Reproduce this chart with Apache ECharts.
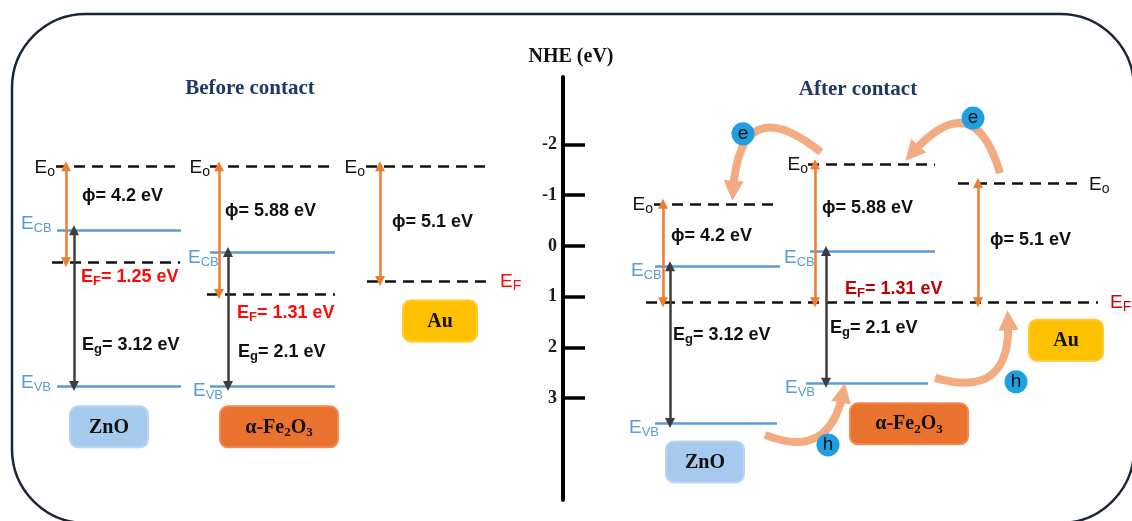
<!DOCTYPE html>
<html>
<head>
<meta charset="utf-8">
<script src="https://cdn.jsdelivr.net/npm/echarts@6/dist/echarts.min.js"></script>
<style>
  html, body { margin: 0; padding: 0; background: #ffffff; }
  #chart { width: 1132px; height: 521px; }
</style>
</head>
<body>
<div id="chart"></div>
<script>
// ---- NHE scale -------------------------------------------------------------
const nheTicks = [-2, -1, 0, 1, 2, 3];

// ---- Energy levels on the NHE scale (eV) -----------------------------------
// order: ZnO, α-Fe2O3, Au
const materials = ['ZnO', 'α-Fe2O3', 'Au'];
const vacuumBefore = [-1.57, -1.57, -1.57];
const cbBefore = [-0.31, 0.12];
const fermiBefore = [0.32, 0.95, 0.69];
const vbBefore = [2.76, 2.76];

const vacuumAfter = [-0.83, -1.61, -1.24];
const cbAfter = [0.40, 0.10];
const vbAfter = [3.49, 2.70];
const fermiAfter = 1.11;

// printed quantities
const workFunction = ['4.2', '5.88', '5.1'];
const bandGap = ['3.12', '2.1'];
const fermiText = ['1.25', '1.31'];

// ---- layout ----------------------------------------------------------------
const AX_MIN = -3.33, AX_MAX = 5.01;
const PX_PER_EV = 50.74;                 // vertical pixels per eV on this axis
const at = (level, dyPx) => level + dyPx / PX_PER_EV;

const SANS = '"Liberation Sans", Arial, sans-serif';
const SERIF = '"Liberation Serif", "Times New Roman", serif';
const BLUE = '#5b9bd5';
const ORANGE = '#ed7d31';
const GREY = '#3d3d3d';
const PEACH = '#f3ab82';

// horizontal extents of each column (x axis runs 0..1132)
const colBefore = [[56, 181], [210, 335], [366, 490]];
const colAfter = [[654, 780], [808, 935], [958, 1083]];

const seg = (x0, x1, v) => ({ coords: [[x0, v], [x1, v]] });
const vArrow = (x, v0, v1) => ({ coords: [[x, v0], [x, v1]] });

// band edges (solid)
const bandEdges = [
  seg(57, 181, cbBefore[0]), seg(57, 181, vbBefore[0]),
  seg(210, 335, cbBefore[1]), seg(210, 335, vbBefore[1]),
  seg(655, 780, cbAfter[0]), seg(655, 777, vbAfter[0]),
  seg(810, 935, cbAfter[1]), seg(806, 928, vbAfter[1])
];

// vacuum and Fermi levels (dashed)
const dashed = [
  seg(colBefore[0][0], colBefore[0][1], vacuumBefore[0]),
  seg(colBefore[1][0], colBefore[1][1], vacuumBefore[1]),
  seg(colBefore[2][0], colBefore[2][1], vacuumBefore[2]),
  seg(52, 180, fermiBefore[0]),
  seg(207, 335, fermiBefore[1]),
  seg(367, 490, fermiBefore[2]),
  seg(colAfter[0][0], colAfter[0][1], vacuumAfter[0]),
  seg(colAfter[1][0], colAfter[1][1], vacuumAfter[1]),
  seg(colAfter[2][0], colAfter[2][1], vacuumAfter[2]),
  seg(646, 1098, fermiAfter)
];

// work-function arrows (vacuum -> Fermi level)
const workArrows = [
  vArrow(66, vacuumBefore[0], fermiBefore[0]),
  vArrow(219, vacuumBefore[1], fermiBefore[1]),
  vArrow(380, vacuumBefore[2], fermiBefore[2]),
  vArrow(663, vacuumAfter[0], fermiAfter),
  vArrow(815, vacuumAfter[1], fermiAfter),
  vArrow(978, vacuumAfter[2], fermiAfter)
];

// band-gap arrows (CB -> VB)
const gapArrows = [
  vArrow(74, cbBefore[0], vbBefore[0]),
  vArrow(228, cbBefore[1], vbBefore[1]),
  vArrow(670, cbAfter[0], vbAfter[0]),
  vArrow(826, cbAfter[1], vbAfter[1])
];

// charge-transfer paths after contact
const transfer = [
  { coords: [[821, at(vacuumAfter[1], -12)], [733, at(vacuumAfter[0], -13)]], lineStyle: { curveness: -0.95 } },
  { coords: [[1000, at(vacuumAfter[2], -10)], [912, at(vacuumAfter[1], -11)]], lineStyle: { curveness: -0.9 } },
  { coords: [[765, at(vbAfter[0], 12)], [843, at(vbAfter[1], 10)]], lineStyle: { curveness: -0.6 } },
  { coords: [[935, at(vbAfter[1], -5)], [1008, at(fermiAfter, 18)]], lineStyle: { curveness: -0.7 } }
];

// text labels
const note = (x, v, text, align) => ({ value: [x, v], label: { formatter: text, align: align || 'left' } });
const Eo = '{k|E}{ks|o}';
const ECB = '{b|E}{bs|CB}';
const EVB = '{b|E}{bs|VB}';
const phi = w => '{t|\u03d5= ' + w + ' eV}';
const Eg = g => '{t|E}{ts|g}{t|= ' + g + ' eV}';
const EFr = f => '{r|E}{rs|F}{r|= ' + f + ' eV}';
const EFd = f => '{d|E}{ds|F}{d|= ' + f + ' eV}';

const notes = [
  note(55, at(vacuumBefore[0], 2), Eo, 'right'),
  note(210, at(vacuumBefore[1], 2), Eo, 'right'),
  note(365, at(vacuumBefore[2], 2), Eo, 'right'),
  note(21, at(cbBefore[0], -6), ECB),
  note(21, at(vbBefore[0], -3), EVB),
  note(188, at(cbBefore[1], 6), ECB),
  note(193, at(vbBefore[1], 5), EVB),
  note(82, at(vacuumBefore[0], 30), phi(workFunction[0])),
  note(225, at(vacuumBefore[1], 45), phi(workFunction[1])),
  note(392, at(vacuumBefore[2], 56), phi(workFunction[2])),
  note(81, at(fermiBefore[0], 15), EFr(fermiText[0])),
  note(237, at(fermiBefore[1], 19), EFr(fermiText[1])),
  note(82, at(vbBefore[0], -41), Eg(bandGap[0])),
  note(238, at(vbBefore[1], -34), Eg(bandGap[1])),
  note(500, at(fermiBefore[2], 1), '{rk|E}{rks|F}'),

  note(653, at(vacuumAfter[0], 1), Eo, 'right'),
  note(808, at(vacuumAfter[1], 1), Eo, 'right'),
  note(1089, at(vacuumAfter[2], 2), Eo),
  note(631, at(cbAfter[0], 5), ECB),
  note(784, at(cbAfter[1], 7), ECB),
  note(629, at(vbAfter[0], 5), EVB),
  note(785, at(vbAfter[1], 5), EVB),
  note(671, at(vacuumAfter[0], 32), phi(workFunction[0])),
  note(822, at(vacuumAfter[1], 44), phi(workFunction[1])),
  note(990, at(vacuumAfter[2], 57), phi(workFunction[2])),
  note(845, at(fermiAfter, -13), EFd(fermiText[1])),
  note(673, at(vbAfter[0], -88), Eg(bandGap[0])),
  note(830, at(vbAfter[1], -55), Eg(bandGap[1])),
  note(1110, at(fermiAfter, 1), '{dk|E}{dks|F}')
];

// material boxes
const boxStyle = [
  { bg: '#a6c9ee', border: '#b9d5f2', w: 76 },
  { bg: '#e9722f', border: '#f08a52', w: 116 },
  { bg: '#ffc000', border: '#ffca2e', w: 72 }
];
const boxText = ['{n|ZnO}', '{n|\u03b1-Fe}{ns|2}{n|O}{ns|3}', '{n|Au}'];
const box = (i, x, v) => ({
  value: [x, v],
  label: {
    formatter: boxText[i], backgroundColor: boxStyle[i].bg, borderColor: boxStyle[i].border,
    borderWidth: 2, borderRadius: 7, width: boxStyle[i].w, padding: [8, 0, 7, 0], align: 'center'
  }
});
const boxes = [
  box(0, 109, at(vbBefore[0], 41)),
  box(1, 279, at(vbBefore[1], 41)),
  box(2, 440, at(fermiBefore[2], 40)),
  box(0, 705, at(vbAfter[0], 39)),
  box(1, 909, at(vbAfter[1], 41)),
  box(2, 1066, at(fermiAfter, 38))
];

// carriers
const carriers = [
  { value: [743, at(vacuumAfter[0], -70)], label: { formatter: 'e' } },
  { value: [973, at(vacuumAfter[2], -65)], label: { formatter: 'e' } },
  { value: [828, at(vbAfter[0], 22)], label: { formatter: 'h' } },
  { value: [1016, at(vbAfter[1], -1)], label: { formatter: 'h' } }
];

const sub = { lineHeight: 12, verticalAlign: 'bottom' };
const TXT = '#111111';
const rich = {
  k: { fontFamily: SANS, fontSize: 19, color: TXT, lineHeight: 22 },
  ks: Object.assign({ fontFamily: SANS, fontSize: 14, color: TXT }, sub),
  b: { fontFamily: SANS, fontSize: 19, color: BLUE, lineHeight: 22 },
  bs: Object.assign({ fontFamily: SANS, fontSize: 13, color: BLUE }, sub),
  t: { fontFamily: SANS, fontSize: 18, fontWeight: 'bold', color: TXT, lineHeight: 22 },
  ts: Object.assign({ fontFamily: SANS, fontSize: 13, fontWeight: 'bold', color: TXT }, sub),
  r: { fontFamily: SANS, fontSize: 18, fontWeight: 'bold', color: '#ff0a0a', lineHeight: 22 },
  rs: Object.assign({ fontFamily: SANS, fontSize: 13, fontWeight: 'bold', color: '#ff0a0a' }, sub),
  d: { fontFamily: SANS, fontSize: 18, fontWeight: 'bold', color: '#c00000', lineHeight: 22 },
  ds: Object.assign({ fontFamily: SANS, fontSize: 13, fontWeight: 'bold', color: '#c00000' }, sub),
  rk: { fontFamily: SANS, fontSize: 19, color: '#ff0a0a', lineHeight: 22 },
  rks: Object.assign({ fontFamily: SANS, fontSize: 14, color: '#ff0a0a' }, sub),
  dk: { fontFamily: SANS, fontSize: 19, color: '#d40000', lineHeight: 22 },
  dks: Object.assign({ fontFamily: SANS, fontSize: 14, color: '#d40000' }, sub),
  n: { fontFamily: SERIF, fontSize: 20, fontWeight: 'bold', color: '#111', lineHeight: 24 },
  ns: Object.assign({ fontFamily: SERIF, fontSize: 13, fontWeight: 'bold', color: '#111' }, sub)
};

const chart = echarts.init(document.getElementById('chart'), null, { renderer: 'canvas' });

const option = {
  animation: false,
  backgroundColor: '#ffffff',
  grid: [
    { left: 0, right: 0, top: 77, bottom: 21 },
    { left: 563, width: 40, top: 77, bottom: 21 }
  ],
  xAxis: [
    { gridIndex: 0, type: 'value', min: 0, max: 1132, show: false },
    { gridIndex: 1, type: 'value', min: 0, max: 1, show: false }
  ],
  yAxis: [
    { gridIndex: 0, type: 'value', min: AX_MIN, max: AX_MAX, inverse: true, show: false },
    {
      gridIndex: 1, type: 'value', min: AX_MIN, max: AX_MAX, inverse: true, position: 'left',
      axisLine: { show: true, lineStyle: { color: '#000', width: 4 } },
      axisTick: { show: true, inside: true, length: 22, customValues: nheTicks, lineStyle: { color: '#000', width: 3.5 } },
      axisLabel: {
        show: true, customValues: nheTicks, margin: 6, color: '#1a1a1a',
        fontFamily: SERIF, fontWeight: 'bold', fontSize: 18,
        formatter: v => String(v)
      },
      splitLine: { show: false }
    }
  ],
  graphic: [
    {
      type: 'rect', silent: true, z: -1,
      shape: { x: 12, y: 14, width: 1122, height: 509, r: 74 },
      style: { fill: 'none', stroke: '#1a2836', lineWidth: 2.5 }
    },
    {
      type: 'text', x: 250, y: 89, silent: true,
      style: { text: 'Before contact', align: 'center', verticalAlign: 'middle', fontFamily: SERIF, fontWeight: 'bold', fontSize: 21, fill: '#1f3864' }
    },
    {
      type: 'text', x: 858, y: 90, silent: true,
      style: { text: 'After contact', align: 'center', verticalAlign: 'middle', fontFamily: SERIF, fontWeight: 'bold', fontSize: 21, fill: '#1f3864' }
    },
    {
      type: 'text', x: 571, y: 57, silent: true,
      style: { text: 'NHE (eV)', align: 'center', verticalAlign: 'middle', fontFamily: SERIF, fontWeight: 'bold', fontSize: 20, fill: '#111' }
    }
  ],
  series: [
    {
      name: 'band edges', type: 'lines', coordinateSystem: 'cartesian2d', silent: true,
      symbol: 'none', lineStyle: { color: BLUE, width: 2.5, opacity: 1 }, data: bandEdges
    },
    {
      name: 'levels', type: 'lines', coordinateSystem: 'cartesian2d', silent: true,
      symbol: 'none', lineStyle: { color: '#111', width: 2.5, type: [11, 7], opacity: 1 }, data: dashed
    },
    {
      name: 'work function', type: 'lines', coordinateSystem: 'cartesian2d', silent: true,
      symbol: ['triangle', 'triangle'], symbolSize: 10,
      lineStyle: { color: ORANGE, width: 2.5, opacity: 1 }, itemStyle: { color: ORANGE }, data: workArrows
    },
    {
      name: 'band gap', type: 'lines', coordinateSystem: 'cartesian2d', silent: true,
      symbol: ['triangle', 'triangle'], symbolSize: 10,
      lineStyle: { color: GREY, width: 2.5, opacity: 1 }, itemStyle: { color: GREY }, data: gapArrows
    },
    {
      name: 'transfer', type: 'lines', coordinateSystem: 'cartesian2d', silent: true, z: 4,
      symbol: ['none', 'triangle'], symbolSize: 20,
      lineStyle: { color: PEACH, width: 8, opacity: 1 }, data: transfer
    },
    {
      name: 'carriers', type: 'scatter', silent: true, z: 5, symbol: 'circle', symbolSize: 23,
      itemStyle: { color: '#1f9fe0', opacity: 1 },
      label: { show: true, position: 'inside', fontFamily: SANS, fontSize: 19, color: '#111' },
      data: carriers
    },
    {
      name: 'boxes', type: 'scatter', silent: true, z: 3, symbolSize: 1,
      itemStyle: { color: 'rgba(0,0,0,0)', opacity: 1 },
      label: { show: true, position: 'inside', verticalAlign: 'middle', rich: rich },
      data: boxes
    },
    {
      name: 'notes', type: 'scatter', silent: true, z: 6, symbolSize: 1,
      itemStyle: { color: 'rgba(0,0,0,0)', opacity: 1 },
      label: { show: true, position: 'inside', verticalAlign: 'middle', rich: rich },
      data: notes
    }
  ]
};

chart.setOption(option);
</script>
</body>
</html>
